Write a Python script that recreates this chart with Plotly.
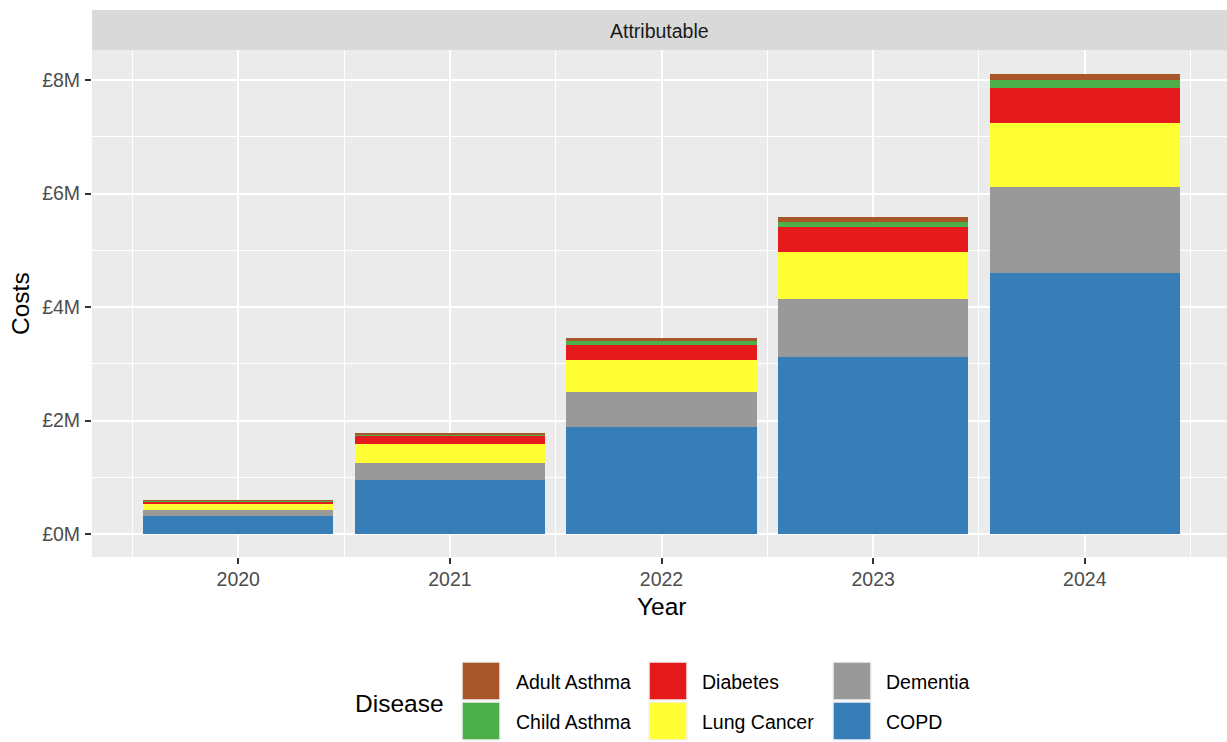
import plotly.graph_objects as go

# ---- data (costs in £ millions) ----
years = [2020, 2021, 2022, 2023, 2024]
copd = [0.317, 0.95, 1.88, 3.12, 4.60]
dementia = [0.106, 0.305, 0.627, 1.02, 1.51]
lung_cancer = [0.111, 0.335, 0.564, 0.834, 1.133]
diabetes = [0.035, 0.14, 0.264, 0.43, 0.617]
child_asthma = [0.014, 0.022, 0.065, 0.093, 0.136]
adult_asthma = [0.010, 0.020, 0.048, 0.083, 0.111]

y_ticks = [0, 2, 4, 6, 8]
y_tick_labels = ["£0M", "£2M", "£4M", "£6M", "£8M"]
facet_label = "Attributable"

# stacking order, bottom to top
series = [
    ("COPD", copd),
    ("Dementia", dementia),
    ("Lung Cancer", lung_cancer),
    ("Diabetes", diabetes),
    ("Child Asthma", child_asthma),
    ("Adult Asthma", adult_asthma),
]
colors = {
    "Adult Asthma": "#A65628",
    "Child Asthma": "#4DAF4A",
    "Diabetes": "#E41A1C",
    "Lung Cancer": "#FFFF33",
    "Dementia": "#999999",
    "COPD": "#377EB8",
}
# legend laid out column by column
legend_columns = [["Adult Asthma", "Child Asthma"],
                  ["Diabetes", "Lung Cancer"],
                  ["Dementia", "COPD"]]

# ---- layout geometry (pixels) ----
W, H = 1227, 742
ML, MR, MT, MB = 92, 0, 50, 185
PW, PH = W - ML - MR, H - MT - MB
FONT = "Liberation Sans"
TICK_SIZE = 19.5
TITLE_SIZE = 24.5


def px_x(px):
    return (px - ML) / PW


def px_y(py):
    return (H - MB - py) / PH


fig = go.Figure()
for name, vals in series:
    fig.add_trace(go.Bar(
        x=years, y=vals, name=name, width=0.9,
        marker=dict(color=colors[name], line=dict(width=0)),
        showlegend=False,
    ))

fig.update_layout(
    width=W, height=H,
    margin=dict(l=ML, r=MR, t=MT, b=MB),
    barmode="stack",
    paper_bgcolor="white",
    plot_bgcolor="#EBEBEB",
    font=dict(family=FONT, color="black"),
)

fig.update_xaxes(
    range=[2019.309, 2024.672],
    tickvals=years, ticktext=[str(y) for y in years],
    tickfont=dict(size=TICK_SIZE, color="#4D4D4D"),
    ticks="outside", ticklen=6, tickwidth=1.5, tickcolor="#333333",
    ticklabelstandoff=-1,
    showgrid=True, gridcolor="white", gridwidth=1.6,
    minor=dict(tickvals=[y + 0.5 for y in [2019] + years], showgrid=True,
               gridcolor="white", gridwidth=0.8, ticks=""),
    zeroline=False, showline=False,
)
fig.update_yaxes(
    range=[-0.405, 8.529],
    tickvals=y_ticks, ticktext=y_tick_labels,
    tickfont=dict(size=TICK_SIZE, color="#4D4D4D"),
    ticks="outside", ticklen=6, tickwidth=1.5, tickcolor="#333333",
    ticklabelstandoff=1,
    showgrid=True, gridcolor="white", gridwidth=1.6,
    minor=dict(tickvals=[1, 3, 5, 7], showgrid=True,
               gridcolor="white", gridwidth=0.8, ticks=""),
    zeroline=False, showline=False,
)

shapes = []
annotations = []

# facet strip
shapes.append(dict(type="rect", xref="paper", yref="paper",
                   x0=0, x1=1, y0=1, y1=px_y(10),
                   fillcolor="#D9D9D9", line=dict(width=0), layer="below"))
annotations.append(dict(text=facet_label, xref="paper", yref="paper",
                        x=0.5, y=px_y(31), showarrow=False,
                        xanchor="center", yanchor="middle",
                        font=dict(size=TICK_SIZE, color="#1A1A1A")))

# axis titles
annotations.append(dict(text="Year", xref="x", yref="paper",
                        x=2022, y=px_y(606), showarrow=False,
                        xanchor="center", yanchor="middle",
                        font=dict(size=TITLE_SIZE, color="black")))
annotations.append(dict(text="Costs", xref="paper", yref="paper",
                        x=px_x(20), y=px_y(304), showarrow=False,
                        textangle=-90, xanchor="center", yanchor="middle",
                        font=dict(size=TITLE_SIZE, color="black")))

# legend
annotations.append(dict(text="Disease", xref="paper", yref="paper",
                        x=px_x(353), y=px_y(703), showarrow=False,
                        xanchor="left", yanchor="middle",
                        font=dict(size=TITLE_SIZE, color="black")))
key_x = [462, 649, 833]
label_x = [514, 700, 884]
row_y = [662, 702]
KEY = 38
for c, col in enumerate(legend_columns):
    for r, name in enumerate(col):
        shapes.append(dict(type="rect", xref="paper", yref="paper",
                           x0=px_x(key_x[c]), x1=px_x(key_x[c] + KEY),
                           y0=px_y(row_y[r] + KEY), y1=px_y(row_y[r]),
                           fillcolor=colors[name],
                           line=dict(color="#F2F2F2", width=1.5)))
        annotations.append(dict(text=name, xref="paper", yref="paper",
                                x=px_x(label_x[c]), y=px_y(row_y[r] + KEY / 2 + 1),
                                showarrow=False, xanchor="left", yanchor="middle",
                                font=dict(size=TICK_SIZE, color="black")))

fig.update_layout(shapes=shapes, annotations=annotations)

fig.write_html("out.html")
